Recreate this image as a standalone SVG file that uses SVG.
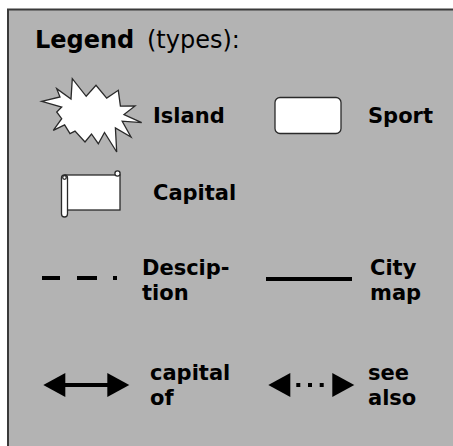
<svg xmlns="http://www.w3.org/2000/svg" width="453" height="446" viewBox="0 0 453 446">
<style>
.lbl{font-family:"DejaVu Sans","Verdana",sans-serif;font-weight:bold;font-size:21px;fill:#000}
.ttl{font-family:"DejaVu Sans","Verdana",sans-serif;font-size:24px;fill:#000}
.shape{fill:#fff;stroke:#2a2a2a;stroke-width:1.3}
.ln{stroke:#000;stroke-width:4;fill:none}
</style>
<defs>
<path id="ah" d="M0,0 L-22,-12 L-22,12 Z" fill="#000"/>
</defs>
<rect x="0" y="0" width="453" height="446" fill="#fff"/>
<rect x="8" y="9.5" width="460" height="450" fill="#b3b3b3" stroke="#3a3a3a" stroke-width="2"/>
<g id="title">
<text class="ttl" x="35" y="48" font-weight="bold">Legend</text>
<text class="ttl" x="147" y="48">(types):</text>
</g>
<g id="island">
<polygon class="shape" points="41.7,101.3 60,97 56.7,88.7 71,99 72.3,78.7 86.2,96.3 96,85.3 106.7,98.1 118.3,90.3 120.4,106.2 135,106 124,114.5 141.7,122.7 122.2,121.2 131,137 115.4,127.9 116.7,152 104.5,132.5 98.3,143.7 91.5,134 85,142 75,131.1 70,133.7 64.6,124.8 53.3,130.3 61.7,118.7 56.7,112 61.7,107"/>
<text class="lbl" x="153" y="123">Island</text>
</g>
<g id="sport">
<rect class="shape" x="275" y="97.5" width="66" height="36" rx="5"/>
<text class="lbl" x="368" y="123">Sport</text>
</g>
<g id="capital">
<rect class="shape" x="65" y="175" width="55" height="35"/>
<circle class="shape" cx="117.5" cy="173.5" r="2.6"/>
<rect class="shape" x="61.5" y="175" width="6" height="42" rx="3"/>
<circle class="shape" cx="64.5" cy="177.5" r="1.8"/>
<text class="lbl" x="153" y="200">Capital</text>
</g>
<g id="connectors">
<line class="ln" x1="42" y1="278" x2="117" y2="278" stroke-dasharray="18 17 20 16 4"/>
<line class="ln" x1="266" y1="279" x2="352" y2="279"/>
<line class="ln" x1="60" y1="385" x2="110" y2="385"/>
<use href="#ah" transform="translate(129.3,385)"/>
<use href="#ah" transform="translate(43.3,385) scale(-1,1)"/>
<line class="ln" x1="296.3" y1="385" x2="324" y2="385" stroke-dasharray="4 7.7"/>
<use href="#ah" transform="translate(354.3,385)"/>
<use href="#ah" transform="translate(268.3,385) scale(-1,1)"/>
</g>
<g id="description">
<text class="lbl" x="142" y="275">Descip-</text>
<text class="lbl" x="142" y="300">tion</text>
</g>
<g id="citymap">
<text class="lbl" x="370" y="275">City</text>
<text class="lbl" x="370" y="300">map</text>
</g>
<g id="capitalof">
<text class="lbl" x="150" y="380">capital</text>
<text class="lbl" x="150" y="405">of</text>
</g>
<g id="seealso">
<text class="lbl" x="368" y="380">see</text>
<text class="lbl" x="368" y="405">also</text>
</g>
</svg>
